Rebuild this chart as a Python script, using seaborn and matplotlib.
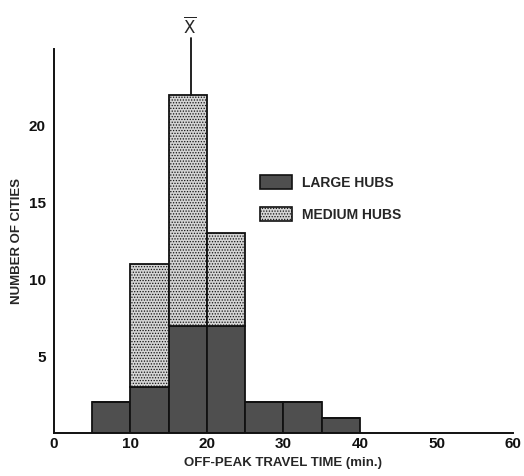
import numpy as np
import pandas as pd
import matplotlib
matplotlib.use("Agg")
import matplotlib.pyplot as plt
import seaborn as sns
from matplotlib.patches import Patch

# ---- data ----
bin_starts = [5, 10, 15, 20, 25, 30, 35]
large_hubs = [2, 3, 7, 7, 2, 2, 1]
medium_hubs = [0, 8, 15, 6, 0, 0, 0]
bin_edges = [5, 10, 15, 20, 25, 30, 35, 40]
x_ticks = [0, 10, 20, 30, 40, 50, 60]
y_ticks = [5, 10, 15, 20]
mean_time = 17.9
series_names = ["LARGE HUBS", "MEDIUM HUBS"]

sns.set_style("white")
plt.rcParams['font.family'] = ['Liberation Sans', 'DejaVu Sans']
plt.rcParams['hatch.linewidth'] = 0.6
plt.rcParams['hatch.color'] = '#6a6a6a'

rows = []
for b, l, m in zip(bin_starts, large_hubs, medium_hubs):
    rows.append({"time": b + 2.5, "count": l, "type": series_names[0]})
    rows.append({"time": b + 2.5, "count": m, "type": series_names[1]})
df = pd.DataFrame(rows)

dark = '#4f4f4f'
light = '#d4d4d4'
palette = {series_names[0]: dark, series_names[1]: light}

fig = plt.figure(figsize=(5.24, 4.76), dpi=100)
ax = fig.add_axes([0.103, 0.090, 0.876, 0.807])

# seaborn stacks the first hue level on top, so medium goes first
sns.histplot(data=df, x="time", weights="count", hue="type",
             hue_order=[series_names[1], series_names[0]],
             bins=bin_edges, multiple="stack", palette=palette, alpha=1,
             edgecolor='#111111', linewidth=1.3, legend=False, ax=ax)

for p in ax.patches:
    fc = matplotlib.colors.to_hex(p.get_facecolor())
    if fc == light:
        p.set_hatch('......')

ax.set_xlim(0, 60)
ax.set_ylim(0, 25)
ax.set_xticks(x_ticks)
ax.set_yticks(y_ticks)
ax.set_xticklabels([str(t) for t in x_ticks], fontsize=11, fontweight='bold')
ax.set_yticklabels([str(t) for t in y_ticks], fontsize=11, fontweight='bold')
ax.tick_params(axis='x', direction='in', length=5, width=1.2, pad=3, colors='#111111')
ax.tick_params(axis='y', direction='out', length=4, width=1.2, pad=2, colors='#111111')
for s in ['top', 'right']:
    ax.spines[s].set_visible(False)
for s in ['left', 'bottom']:
    ax.spines[s].set_linewidth(1.4)
    ax.spines[s].set_color('#111111')

ax.set_xlabel("OFF-PEAK TRAVEL TIME (min.)", fontsize=9.5, fontweight='bold', labelpad=4)
ax.set_ylabel("NUMBER OF CITIES", fontsize=9.5, fontweight='bold', labelpad=4)

# mean line
top = large_hubs[2] + medium_hubs[2]
ax.plot([mean_time, mean_time], [top, 25.7], color='#111111', lw=1.3, clip_on=False)
ax.text(mean_time - 0.2, 26.55, r"$\overline{\mathrm{X}}$", ha='center', va='center',
        fontsize=12, clip_on=False)

handles = [Patch(facecolor=dark, edgecolor='#111111', linewidth=1.2),
           Patch(facecolor=light, edgecolor='#111111', linewidth=1.2, hatch='......')]
leg = ax.legend(handles, series_names, loc='upper left', bbox_to_anchor=(0.448, 0.672),
                frameon=False, prop={'weight': 'bold', 'size': 10},
                borderpad=0, borderaxespad=0,
                handlelength=2.3, handleheight=1.15, labelspacing=1.25, handletextpad=0.75)

fig.savefig("out.png", dpi=100)
